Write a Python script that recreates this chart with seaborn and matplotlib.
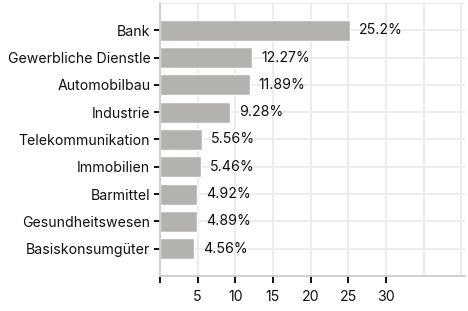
import matplotlib
matplotlib.use("Agg")
import matplotlib.pyplot as plt
import seaborn as sns
import pandas as pd

# Sektorgewichtung
sectors = ["Bank", "Gewerbliche Dienstle", "Automobilbau", "Industrie",
           "Telekommunikation", "Immobilien", "Barmittel",
           "Gesundheitswesen", "Basiskonsumgüter"]
weights = [25.2, 12.27, 11.89, 9.28, 5.56, 5.46, 4.92, 4.89, 4.56]
weight_labels = ["25.2%", "12.27%", "11.89%", "9.28%", "5.56%",
                 "5.46%", "4.92%", "4.89%", "4.56%"]
x_ticks = [0, 5, 10, 15, 20, 25, 30]
x_tick_labels = ["", "5", "10", "15", "20", "25", "30"]

df = pd.DataFrame({"sector": sectors, "weight": weights})

sns.set_theme(style="white")
plt.rcParams["font.family"] = ["Inter", "DejaVu Sans"]

fig = plt.figure(figsize=(4.68, 3.11), dpi=100)
ax = fig.add_axes([160 / 468, 35 / 311, 305 / 468, 273 / 311])

sns.barplot(data=df, x="weight", y="sector", color="#b3b2ae",
            saturation=1, width=0.77, ax=ax)

# grid
for gx in range(5, 45, 5):
    ax.axvline(gx, color="#ebebeb", lw=1.3, zorder=0)
for gy in range(-1, len(sectors)):
    ax.axhline(gy, color="#ebebeb", lw=1.3, zorder=0)

for i, (w, lab) in enumerate(zip(weights, weight_labels)):
    ax.annotate(lab, (w, i), xytext=(6.5, 0), textcoords="offset points",
                va="center", ha="left", fontsize=10.2, color="#111111")

ax.set_xlim(0, 40.5)
ax.set_ylim(len(sectors), -1)
ax.set_xticks(x_ticks)
ax.set_xticklabels(x_tick_labels, fontsize=10.2, color="#111111")
ax.tick_params(axis="y", labelsize=10.2, labelcolor="#111111", length=4,
               width=1.4, color="#111111", pad=3, left=True)
ax.tick_params(axis="x", length=5, width=1.4, color="#111111", pad=5,
               bottom=True)
ax.set_xlabel("")
ax.set_ylabel("")
for side in ["top", "right"]:
    ax.spines[side].set_visible(False)
for side in ["left", "bottom"]:
    ax.spines[side].set_color("#cccccc")
    ax.spines[side].set_linewidth(1.3)

fig.savefig("out.png", dpi=100)
